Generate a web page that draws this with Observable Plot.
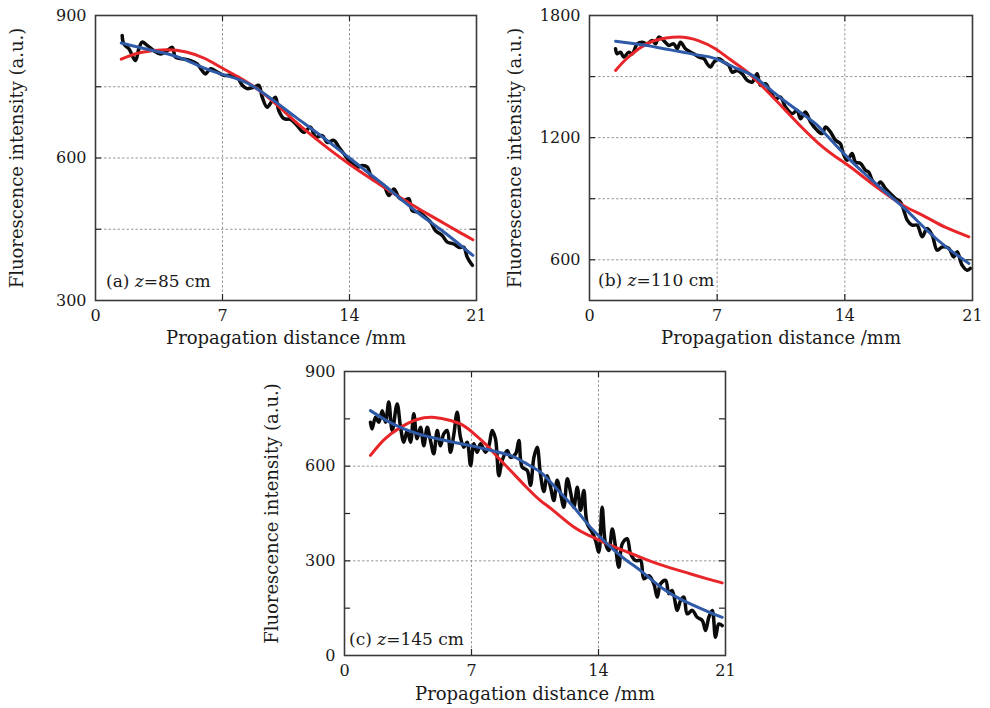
<!DOCTYPE html>
<html>
<head>
<meta charset="utf-8">
<script src="https://cdn.jsdelivr.net/npm/d3@7"></script>
<script src="https://cdn.jsdelivr.net/npm/@observablehq/plot@0.6"></script>
<style>
  body { margin: 0; background: #fff; }
  #wrap { position: relative; width: 990px; height: 708px; overflow: hidden; background: #fff; }
  .panel { position: absolute; }
</style>
</head>
<body>
<div id="wrap"></div>
<script>
// ---------- shared labels ----------
const xTitle = "Propagation distance /mm";
const yTitle = "Fluorescence intensity (a.u.)";
const xTickLabels = [0, 7, 14, 21];
const xGrid = [7, 14];

// ---------- panel (a) z=85 cm ----------
const aDataX = [1.47,1.56,1.84,2.2,2.39,2.57,2.85,3.22,3.58,3.86,4.23,4.41,4.78,5.24,5.6,5.88,6.06,6.34,6.71,7.07,7.44,7.81,8.09,8.36,8.73,9.0,9.19,9.46,9.74,9.92,10.1,10.38,10.75,11.12,11.48,11.85,12.13,12.5,12.77,13.14,13.41,13.69,14.06,14.43,14.7,14.98,15.25,15.62,15.9,16.17,16.45,16.72,17.0,17.27,17.46,17.82,18.19,18.47,18.74,19.11,19.39,19.75,20.03,20.3,20.49,20.77];
const aDataY = [858,840,830,805,830,844,837,826,819,823,833,812,809,805,798,784,777,788,781,774,774,770,753,746,749,753,728,707,721,728,700,683,681,668,654,665,644,647,633,637,623,609,591,581,584,581,556,549,542,521,535,517,511,514,489,486,475,465,447,437,423,419,412,412,391,374];
const aRedX  = [1.42,2.5,3.9,5,6,6.9,8,9,10,11,12,13,14,15,16,17,18,19,20,20.8];
const aRedY  = [808,822,828,823,810,791,768,743,712,677,645,615,587,561,536,512,489,467,445,428];
const aBlueX = [1.42,2.5,4,5,6,6.9,8,8.9,10,11,12,13,14,15,16,17,18,19,20,20.8];
const aBlueY = [842,832,819,806,789,777,764,746,716,687,659,630,600,570,540,508,478,450,420,395];
const aYTickLabels = [300, 600, 900];
const aYGrid = [450, 600, 750];
const aYMinor = [];

// ---------- panel (b) z=110 cm ----------
const bDataX = [1.43,1.52,1.7,1.88,2.15,2.34,2.62,2.89,3.16,3.44,3.62,3.8,4.07,4.35,4.62,4.81,4.99,5.26,5.54,5.72,5.99,6.27,6.45,6.63,6.82,7.09,7.36,7.64,7.82,8.1,8.37,8.65,8.92,9.19,9.37,9.65,9.92,10.2,10.47,10.75,11.11,11.38,11.57,11.84,12.12,12.48,12.76,12.94,13.21,13.49,13.76,13.9,14.13,14.4,14.58,14.86,15.13,15.31,15.5,15.77,15.95,16.23,16.5,16.78,17.05,17.23,17.42,17.69,17.97,18.24,18.51,18.79,19.06,19.34,19.7,19.97,20.16,20.43,20.71,20.89];
const bDataY = [1637,1612,1620,1596,1620,1612,1661,1669,1661,1677,1661,1694,1677,1653,1661,1637,1669,1637,1620,1612,1596,1588,1563,1547,1571,1588,1571,1555,1522,1530,1514,1481,1473,1514,1457,1465,1424,1391,1399,1350,1318,1334,1293,1326,1277,1236,1220,1252,1228,1187,1170,1125,1089,1122,1080,1073,1040,1031,991,966,982,950,925,901,884,844,795,770,770,713,754,721,647,663,656,614,639,574,549,558];
const bRedX  = [1.43,2,2.7,3.5,4.9,6,6.9,7.7,8.55,9.5,10.75,11,12.57,14.04,15,16.23,17.3,18.42,19.5,20.8];
const bRedY  = [1530,1585,1637,1675,1694,1675,1637,1585,1530,1450,1334,1310,1171,1073,1008,925,862,811,760,713];
const bBlueX = [1.43,3,4.07,5,6,6.9,8.1,8.92,10,11,12,12.5,13,14.04,15,16.23,17.3,18.5,19.6,20.8];
const bBlueY = [1674,1655,1637,1622,1605,1588,1539,1506,1430,1360,1295,1260,1212,1113,1030,933,850,745,660,582];
const bYTickLabels = [600, 1200, 1800];
const bYGrid = [600, 900, 1200, 1500];
const bYMinor = [];

// ---------- panel (c) z=145 cm ----------
const cDataX = [1.43,1.52,1.71,1.89,2.08,2.26,2.44,2.63,2.9,3.09,3.27,3.46,3.64,3.82,4.0,4.19,4.37,4.56,4.74,4.92,5.11,5.29,5.47,5.66,5.84,6.03,6.21,6.39,6.58,6.76,6.95,7.13,7.31,7.5,7.77,7.96,8.14,8.32,8.51,8.69,8.97,9.15,9.43,9.61,9.79,10.07,10.25,10.44,10.62,10.8,10.99,11.17,11.36,11.54,11.72,11.91,12.09,12.28,12.46,12.64,12.83,13.01,13.19,13.38,13.65,13.84,14.02,14.2,14.39,14.57,14.76,14.94,15.12,15.31,15.58,15.77,16.04,16.32,16.5,16.78,17.05,17.24,17.42,17.7,17.88,18.06,18.34,18.52,18.71,18.89,19.17,19.44,19.72,19.9,20.08,20.27,20.45,20.63,20.82];
const cDataY = [739,718,755,739,776,739,803,713,797,723,676,713,676,766,687,723,665,723,681,639,713,665,702,713,644,702,771,692,660,676,602,671,644,671,644,665,713,687,570,618,650,628,639,681,597,586,539,628,660,575,520,570,533,491,555,512,470,560,518,470,533,460,523,417,391,364,327,470,354,333,401,343,280,354,370,322,301,301,243,253,227,185,227,238,196,206,143,174,185,132,143,121,111,79,121,143,58,100,95];
const cRedX  = [1.43,2.2,3.09,4,4.83,5.6,6.39,7.1,7.86,8.5,9.15,10,10.8,11.5,12.64,13.5,14.48,15.5,16.5,17.24,18,19,20,20.82];
const cRedY  = [634,685,723,748,755,748,734,705,665,625,586,535,491,460,407,380,354,330,307,291,277,260,243,230];
const cBlueX = [1.43,2.3,3.27,4.2,5.11,6,6.95,8,9.15,9.9,10.8,11.5,12.64,13.5,14.48,15.4,16.32,17.1,17.97,19,20,20.82];
const cBlueY = [776,745,718,700,687,676,665,651,634,612,581,540,470,410,354,308,269,232,196,165,140,121];
const cYTickLabels = [0, 300, 600, 900];
const cYGrid = [300, 600];
const cYMinor = [150, 450, 750];

// ---------- drawing ----------
const FONT = "DejaVu Serif";
const zip = (xs, ys) => xs.map((x, i) => ({x, y: ys[i]}));
const plain = d => String(d);

function panel(cfg) {
  const {left, top, width, height, ml, mr, mt, mb, yDomain, yTickLabels, yGrid, yMinor,
         dataX, dataY, redX, redY, blueX, blueY, tag, zval, titleDx, titleDy, noteDx, noteDy} = cfg;
  const pw = width - ml - mr, ph = height - mt - mb;
  const tickLen = 6;
  const yTicksAll = yGrid.concat(yMinor);
  const gridStyle = {stroke: "#808080", strokeOpacity: 1, strokeWidth: 0.8, strokeDasharray: "2.5,2"};
  const svg = Plot.plot({
    width, height,
    marginLeft: ml, marginRight: mr, marginTop: mt, marginBottom: mb,
    style: {fontFamily: FONT, fontSize: "16px", color: "#1a1a1a", background: "transparent", overflow: "visible"},
    x: {domain: [0, 21]},
    y: {domain: yDomain},
    marks: [
      Plot.gridX({ticks: xGrid, ...gridStyle}),
      Plot.gridY({ticks: yGrid, ...gridStyle}),
      Plot.line(zip(dataX, dataY), {x: "x", y: "y", stroke: "#0a0a0a", strokeWidth: 3.5, curve: "catmull-rom"}),
      Plot.line(zip(redX, redY), {x: "x", y: "y", stroke: "#e8262a", strokeWidth: 3, curve: "natural"}),
      Plot.line(zip(blueX, blueY), {x: "x", y: "y", stroke: "#2f5aa8", strokeWidth: 3, curve: "natural"}),
      // inward tick marks on all four sides
      Plot.ruleX(xGrid, {insetBottom: ph - tickLen, stroke: "#222", strokeWidth: 1.2}),
      Plot.ruleX(xGrid, {insetTop: ph - tickLen, stroke: "#222", strokeWidth: 1.2}),
      Plot.ruleY(yTicksAll, {insetRight: pw - tickLen, stroke: "#222", strokeWidth: 1.2}),
      Plot.ruleY(yTicksAll, {insetLeft: pw - tickLen, stroke: "#222", strokeWidth: 1.2}),
      Plot.frame({stroke: "#3a3a3a", strokeWidth: 1.6}),
      Plot.axisX({ticks: xTickLabels, tickSize: 0, tickPadding: 9, label: null, fontSize: 16, tickFormat: plain}),
      Plot.axisY({ticks: yTickLabels, tickSize: 0, tickPadding: 9, label: null, fontSize: 16, tickFormat: plain}),
      Plot.text([xTitle], {frameAnchor: "bottom", dy: titleDy, lineAnchor: "middle", textAnchor: "middle", fontSize: 18, fill: "#1a1a1a"}),
      Plot.text([yTitle], {frameAnchor: "left", dx: titleDx, rotate: -90, textAnchor: "middle", lineAnchor: "middle", fontSize: 18, fill: "#1a1a1a"})
    ]
  });
  // panel annotation with italic z
  const t = d3.select(svg).append("text")
    .attr("x", ml + noteDx)
    .attr("y", height - mb - noteDy)
    .attr("text-anchor", "start")
    .attr("font-family", FONT)
    .attr("font-size", 17)
    .attr("fill", "#1a1a1a");
  t.append("tspan").text(tag + " ");
  t.append("tspan").attr("font-style", "italic").text("z");
  t.append("tspan").text("=" + zval + " cm");

  const div = document.createElement("div");
  div.className = "panel";
  div.style.left = left + "px";
  div.style.top = top + "px";
  div.appendChild(svg);
  document.getElementById("wrap").appendChild(div);
}

panel({left: 0, top: 0, width: 490, height: 350, ml: 95, mr: 14, mt: 15, mb: 50,
  yDomain: [300, 900], yTickLabels: aYTickLabels, yGrid: aYGrid, yMinor: aYMinor,
  dataX: aDataX, dataY: aDataY, redX: aRedX, redY: aRedY, blueX: aBlueX, blueY: aBlueY,
  tag: "(a)", zval: "85", titleDx: -78, titleDy: 38, noteDx: 11, noteDy: 13});

panel({left: 495, top: 0, width: 495, height: 350, ml: 94, mr: 18, mt: 15, mb: 50,
  yDomain: [400, 1800], yTickLabels: bYTickLabels, yGrid: bYGrid, yMinor: bYMinor,
  dataX: bDataX, dataY: bDataY, redX: bRedX, redY: bRedY, blueX: bBlueX, blueY: bBlueY,
  tag: "(b)", zval: "110", titleDx: -74, titleDy: 38, noteDx: 9, noteDy: 14});

panel({left: 250, top: 355, width: 490, height: 353, ml: 94, mr: 15, mt: 16, mb: 53,
  yDomain: [0, 900], yTickLabels: cYTickLabels, yGrid: cYGrid, yMinor: cYMinor,
  dataX: cDataX, dataY: cDataY, redX: cRedX, redY: cRedY, blueX: cBlueX, blueY: cBlueY,
  tag: "(c)", zval: "145", titleDx: -72, titleDy: 39, noteDx: 5, noteDy: 10});
</script>
</body>
</html>
